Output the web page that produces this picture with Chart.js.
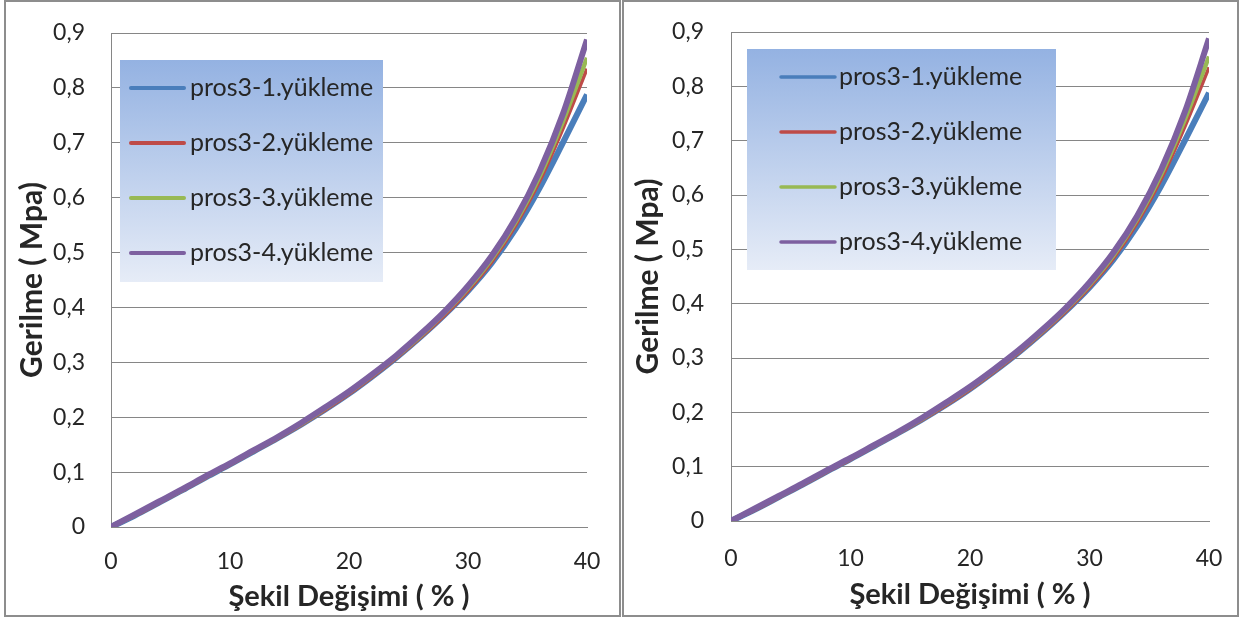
<!DOCTYPE html>
<html>
<head>
<meta charset="utf-8">
<script src="https://cdn.jsdelivr.net/npm/chart.js@4"></script>
<style>
body { margin: 0; background: #fff; width: 1239px; height: 619px; overflow: hidden; position: relative; }
.panel { position: absolute; top: 0; width: 613px; height: 613px; border: 2px solid #8d8d8d; background: #fff; }
#p1 { left: 4px; }
#p2 { left: 622px; }
canvas { display: block; }
</style>
</head>
<body>
<div class="panel" id="p1"><canvas id="c1" width="613" height="613"></canvas></div>
<div class="panel" id="p2"><canvas id="c2" width="613" height="613"></canvas></div>
<script>
// strain (%) and stress (MPa)
var strain = [0, 2, 4, 6, 8, 10, 12, 14, 16, 18, 20, 22, 24, 26, 28, 30, 32, 34, 36, 38, 40];
var load1 = [0, 0.021, 0.044, 0.067, 0.091, 0.114, 0.138, 0.162, 0.187, 0.214, 0.243, 0.275, 0.309, 0.346, 0.386, 0.430, 0.481, 0.543, 0.617, 0.701, 0.788];
var load2 = [0, 0.020, 0.043, 0.066, 0.090, 0.113, 0.137, 0.161, 0.186, 0.213, 0.242, 0.274, 0.308, 0.345, 0.385, 0.430, 0.483, 0.549, 0.629, 0.727, 0.835];
var load3 = [0, 0.022, 0.045, 0.068, 0.092, 0.115, 0.139, 0.163, 0.188, 0.216, 0.245, 0.277, 0.311, 0.348, 0.389, 0.435, 0.489, 0.556, 0.638, 0.740, 0.855];
var load4 = [0, 0.023, 0.046, 0.069, 0.093, 0.116, 0.140, 0.164, 0.190, 0.218, 0.247, 0.279, 0.313, 0.351, 0.392, 0.439, 0.494, 0.562, 0.647, 0.754, 0.888];

var seriesNames = ['pros3-1.yükleme', 'pros3-2.yükleme', 'pros3-3.yükleme', 'pros3-4.yükleme'];
var seriesColors = ['#4a7ebb', '#be4b48', '#98b954', '#7d60a0'];
var yTickLabels = ['0', '0,1', '0,2', '0,3', '0,4', '0,5', '0,6', '0,7', '0,8', '0,9'];
var xTickLabels = ['0', '10', '20', '30', '40'];
var xTitle = 'Şekil Değişimi ( % )';
var yTitle = 'Gerilme ( Mpa)';

Chart.defaults.font.family = 'Lato';
Chart.defaults.color = '#262626';

function pts(ys) {
    return strain.map(function (x, i) { return { x: x, y: ys[i] }; });
}

// legend drawn as a gradient box inside the plot area
var boxLegend = {
    id: 'boxLegend',
    beforeDatasetsDraw: function (chart, args, o) {
        var ctx = chart.ctx, a = chart.chartArea;
        var x = a.left + o.dx, y = a.top + o.dy;
        var g = ctx.createLinearGradient(0, y, 0, y + o.h);
        g.addColorStop(0, '#94b2e2');
        g.addColorStop(1, '#e6ecf7');
        ctx.save();
        ctx.fillStyle = g;
        ctx.fillRect(x, y, o.w, o.h);
        ctx.font = '25px Lato';
        ctx.textBaseline = 'middle';
        chart.data.datasets.forEach(function (ds, i) {
            var yy = y + o.row0 + i * o.gap;
            ctx.strokeStyle = ds.borderColor;
            ctx.lineWidth = o.lw;
            ctx.lineCap = 'round';
            ctx.beginPath();
            ctx.moveTo(x + o.l0, yy);
            ctx.lineTo(x + o.l1, yy);
            ctx.stroke();
            ctx.fillStyle = '#262626';
            ctx.fillText(ds.label, x + o.tx, yy);
        });
        ctx.restore();
    }
};

function makeChart(id, p) {
    var widths = [6, 3.5, 4.5, 6];
    var sets = [load1, load2, load3, load4].map(function (ys, i) {
        return {
            label: seriesNames[i],
            data: pts(ys),
            borderColor: seriesColors[i],
            backgroundColor: seriesColors[i],
            borderWidth: widths[i],
            pointRadius: 0,
            cubicInterpolationMode: 'monotone',
            order: 4 - i
        };
    });
    return new Chart(document.getElementById(id), {
        type: 'line',
        data: { datasets: sets },
        plugins: [boxLegend],
        options: {
            responsive: false,
            animation: false,
            layout: { padding: { top: p.top, right: p.right, left: 0, bottom: 0 } },
            plugins: {
                legend: { display: false },
                tooltip: { enabled: false },
                boxLegend: p.legend
            },
            scales: {
                x: {
                    type: 'linear',
                    min: 0, max: 40,
                    afterFit: function (s) { s.height = p.xh; },
                    grid: { display: true, drawOnChartArea: false, drawTicks: true, tickLength: p.xtl, tickColor: 'rgba(0,0,0,0)' },
                    border: { display: true, color: '#868686' },
                    ticks: {
                        stepSize: 10, padding: 6, font: { size: 23 },
                        callback: function (v, i) { return xTickLabels[i]; }
                    },
                    title: { display: true, text: xTitle, font: { size: 29, weight: 'bold' }, padding: { top: 0, bottom: p.xtb } }
                },
                y: {
                    min: 0, max: 0.9,
                    afterFit: function (s) { s.width = p.yw; },
                    grid: { color: '#868686', drawTicks: true, tickLength: p.ytl, tickColor: 'rgba(0,0,0,0)' },
                    border: { display: true, color: '#868686' },
                    ticks: {
                        stepSize: 0.1, padding: 6, font: { size: 23 },
                        callback: function (v, i) { return yTickLabels[i]; }
                    },
                    title: { display: true, text: yTitle, font: { size: 30, weight: 'bold' }, padding: { top: p.ytt, bottom: 0 } }
                }
            }
        }
    });
}

makeChart('c1', {
    top: 31, right: 32, xh: 88, yw: 105, xtl: 15, ytl: 20, xtb: 1, ytt: 8,
    legend: { dx: 9, dy: 27, w: 263, h: 222, row0: 28, gap: 55, l0: 11, l1: 64, tx: 70, lw: 4 }
});
makeChart('c2', {
    top: 30, right: 28, xh: 94, yw: 107, xtl: 18, ytl: 21, xtb: 3, ytt: 6,
    legend: { dx: 16, dy: 17, w: 309, h: 221, row0: 28, gap: 55, l0: 34, l1: 88, tx: 92, lw: 3.5 }
});
</script>
</body>
</html>
